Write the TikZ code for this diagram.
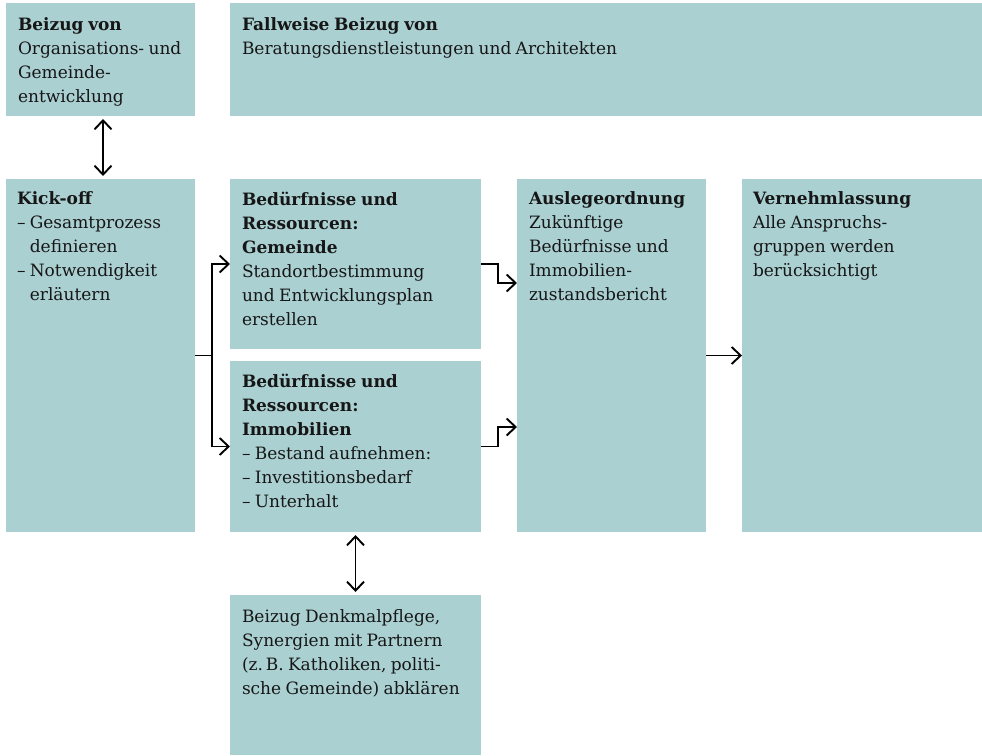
\documentclass[tikz,border=0pt]{standalone}
\usepackage{fontspec}
\setmainfont[WordSpace=0.8]{DejaVu Serif}
\usetikzlibrary{arrows.meta,calc}
\definecolor{boxc}{RGB}{171,208,210}
\definecolor{txtc}{RGB}{22,22,22}
\begin{document}
\begin{tikzpicture}[x=1pt,y=-1pt,
  box/.style={fill=boxc,draw=none,inner sep=0pt,outer sep=0pt,anchor=north west},
  txt/.style={anchor=north west,inner sep=0pt,outer sep=0pt,align=left,text=txtc,
    font=\fontsize{17}{24}\selectfont},
  line/.style={draw=black,line width=1.9pt},
  conn/.style={line,-{Straight Barb[length=9pt,width=17pt]}},
  dconn/.style={line,{Straight Barb[length=9pt,width=17pt]}-{Straight Barb[length=9pt,width=17pt]},shorten <=3pt,shorten >=3pt}]
\useasboundingbox (0,0) rectangle (982,755);
% boxes
\node[box,minimum width=189pt,minimum height=113pt] (b1) at (6,3) {};
\node[box,minimum width=752pt,minimum height=113pt] (b2) at (230,3) {};
\node[box,minimum width=189pt,minimum height=353pt] (kick) at (6,179) {};
\node[box,minimum width=251pt,minimum height=170pt] (gem) at (230,179) {};
\node[box,minimum width=251pt,minimum height=171pt] (imm) at (230,361) {};
\node[box,minimum width=189pt,minimum height=353pt] (ausl) at (517,179) {};
\node[box,minimum width=240pt,minimum height=353pt] (vern) at (742,179) {};
\node[box,minimum width=251pt,minimum height=160pt] (denk) at (230,595) {};
% texts
\node[txt] (t1) at ($(b1.north west)+(12,15)$) {\textbf{Beizug von}\\Organisations- und\\Gemeinde-\\entwicklung};
\node[txt] (t2) at ($(b2.north west)+(12,15)$) {\textbf{Fallweise Beizug von}\\Beratungsdienstleistungen und Architekten};
\node[txt] (t3) at ($(kick.north west)+(11,13)$) {\textbf{Kick-off}\\– Gesamtprozess\\\phantom{– }definieren\\– Notwendigkeit\\\phantom{– }erläutern};
\node[txt] (t4) at ($(gem.north west)+(12,13)$) {\textbf{Bedürfnisse und}\\\textbf{Ressourcen:}\\\textbf{Gemeinde}\\Standortbestimmung\\und Entwicklungsplan\\erstellen};
\node[txt] (t5) at ($(imm.north west)+(12,13)$) {\textbf{Bedürfnisse und}\\\textbf{Ressourcen:}\\\textbf{Immobilien}\\– Bestand aufnehmen:\\– Investitionsbedarf\\– Unterhalt};
\node[txt] (t6) at ($(ausl.north west)+(12,13)$) {\textbf{Auslegeordnung}\\Zukünftige\\Bedürfnisse und\\Immobilien-\\zustandsbericht};
\node[txt] (t7) at ($(vern.north west)+(11,13)$) {\textbf{Vernehmlassung}\\Alle Anspruchs-\\gruppen werden\\berücksichtigt};
\node[txt] (t8) at ($(denk.north west)+(12,15)$) {Beizug Denkmalpflege,\\Synergien mit Partnern\\(z.\,B. Katholiken, politi-\\sche Gemeinde) abklären};
% connectors
\draw[dconn] ([xshift=2.5pt]b1.south) -- ([xshift=2.5pt]kick.north);
\coordinate (br) at ($(kick.east)+(17,0)$);
\draw[line] (kick.east) -- (br);
\draw[conn] (br) |- (gem.west);
\draw[conn] (br) |- (imm.west);
\draw[conn] (gem.east) -- ++(17,0) |- ($(ausl.north west)+(0,104)$);
\draw[conn] (imm.east) -- ++(17,0) |- ($(ausl.north west)+(0,248)$);
\draw[conn] (ausl.east) -- (vern.west);
\draw[dconn] (imm.south) -- (denk.north);
\end{tikzpicture}
\end{document}
